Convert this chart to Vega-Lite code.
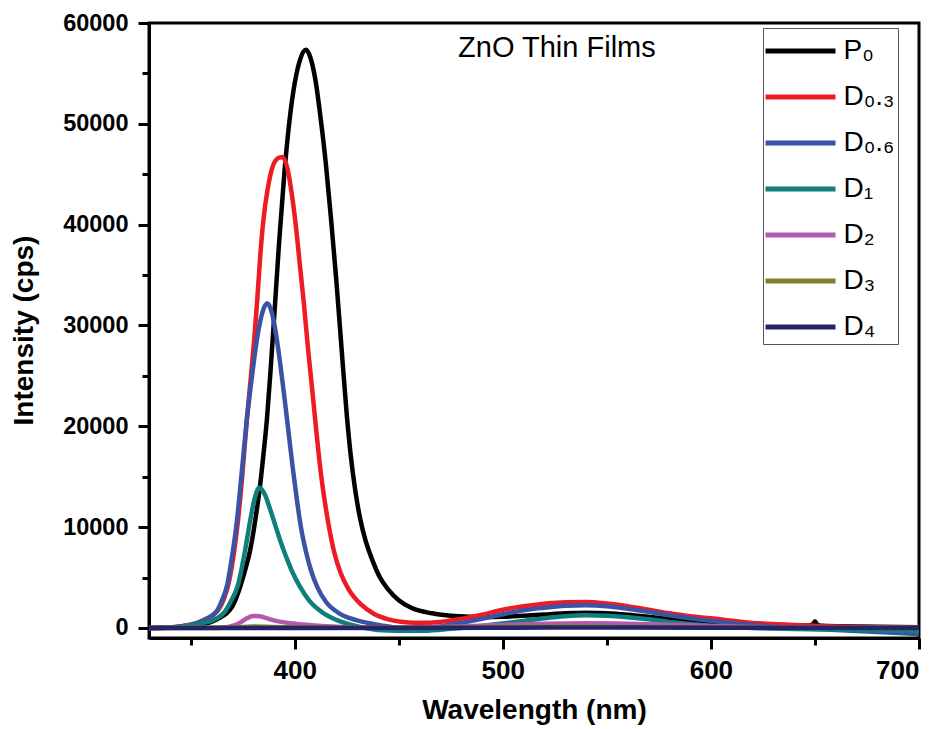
{
  "$schema": "https://vega.github.io/schema/vega-lite/v6.json",
  "width": 770,
  "height": 615,
  "autosize": {"type": "none"},
  "padding": {"left": 149, "top": 23, "right": 28, "bottom": 91},
  "background": "white",
  "config": {
    "view": {"stroke": "black", "strokeWidth": 3},
    "font": "Liberation Sans",
    "axis": {"grid": false, "domainColor": "black", "domainWidth": 3, "tickColor": "black", "tickWidth": 3, "labelColor": "black", "titleColor": "black", "labelFont": "Liberation Sans", "titleFont": "Liberation Sans", "labelFontWeight": "bold", "titleFontWeight": "bold"}
  },
  "layer": [
    {
      "data": {"values": [
        {"s":"P₀","x":330,"y":0},{"s":"P₀","x":340,"y":40},{"s":"P₀","x":346,"y":120},{"s":"P₀","x":350,"y":200},{"s":"P₀","x":355,"y":350},{"s":"P₀","x":360,"y":600},{"s":"P₀","x":364,"y":1000},{"s":"P₀","x":367,"y":1400},{"s":"P₀","x":370,"y":2100},{"s":"P₀","x":373.7,"y":4000},{"s":"P₀","x":376,"y":5600},{"s":"P₀","x":378.5,"y":7600},{"s":"P₀","x":381,"y":10600},{"s":"P₀","x":383.3,"y":14000},{"s":"P₀","x":385,"y":17200},{"s":"P₀","x":386.7,"y":20800},{"s":"P₀","x":388.5,"y":25800},{"s":"P₀","x":390.3,"y":31300},{"s":"P₀","x":392.5,"y":38200},{"s":"P₀","x":395,"y":45000},{"s":"P₀","x":397.5,"y":50300},{"s":"P₀","x":400,"y":54000},{"s":"P₀","x":402.5,"y":56300},{"s":"P₀","x":405.4,"y":57340},{"s":"P₀","x":407.5,"y":56600},{"s":"P₀","x":410,"y":54300},{"s":"P₀","x":412.5,"y":50500},{"s":"P₀","x":415,"y":46000},{"s":"P₀","x":417.5,"y":40500},{"s":"P₀","x":420,"y":34500},{"s":"P₀","x":422.5,"y":27800},{"s":"P₀","x":425,"y":21200},{"s":"P₀","x":427,"y":17000},{"s":"P₀","x":429,"y":13800},{"s":"P₀","x":431.5,"y":10800},{"s":"P₀","x":434,"y":8700},{"s":"P₀","x":437,"y":6900},{"s":"P₀","x":441,"y":5000},{"s":"P₀","x":445,"y":3800},{"s":"P₀","x":450,"y":2750},{"s":"P₀","x":456,"y":2000},{"s":"P₀","x":466,"y":1450},{"s":"P₀","x":479,"y":1150},{"s":"P₀","x":490,"y":1080},{"s":"P₀","x":500,"y":1100},{"s":"P₀","x":510,"y":1200},{"s":"P₀","x":520,"y":1330},{"s":"P₀","x":530,"y":1450},{"s":"P₀","x":540,"y":1500},{"s":"P₀","x":550,"y":1450},{"s":"P₀","x":560,"y":1300},{"s":"P₀","x":570,"y":1100},{"s":"P₀","x":580,"y":880},{"s":"P₀","x":590,"y":700},{"s":"P₀","x":600,"y":550},{"s":"P₀","x":620,"y":380},{"s":"P₀","x":640,"y":260},{"s":"P₀","x":647,"y":250},{"s":"P₀","x":649,"y":350},{"s":"P₀","x":650,"y":650},{"s":"P₀","x":651,"y":350},{"s":"P₀","x":653,"y":220},{"s":"P₀","x":670,"y":150},{"s":"P₀","x":700,"y":60},
        {"s":"D₀.₃","x":330,"y":0},{"s":"D₀.₃","x":340,"y":50},{"s":"D₀.₃","x":346,"y":180},{"s":"D₀.₃","x":350,"y":320},{"s":"D₀.₃","x":354.5,"y":600},{"s":"D₀.₃","x":358,"y":950},{"s":"D₀.₃","x":361,"y":1300},{"s":"D₀.₃","x":364,"y":2000},{"s":"D₀.₃","x":366,"y":2900},{"s":"D₀.₃","x":368,"y":4200},{"s":"D₀.₃","x":370.5,"y":7000},{"s":"D₀.₃","x":372.8,"y":10710},{"s":"D₀.₃","x":375,"y":15500},{"s":"D₀.₃","x":377,"y":20630},{"s":"D₀.₃","x":379,"y":25000},{"s":"D₀.₃","x":380.5,"y":28500},{"s":"D₀.₃","x":382,"y":32500},{"s":"D₀.₃","x":383.5,"y":37000},{"s":"D₀.₃","x":385,"y":40500},{"s":"D₀.₃","x":387,"y":43500},{"s":"D₀.₃","x":389.5,"y":45800},{"s":"D₀.₃","x":392,"y":46600},{"s":"D₀.₃","x":394,"y":46720},{"s":"D₀.₃","x":396.5,"y":45600},{"s":"D₀.₃","x":398.5,"y":43200},{"s":"D₀.₃","x":400.5,"y":40000},{"s":"D₀.₃","x":402.5,"y":36000},{"s":"D₀.₃","x":404.5,"y":32000},{"s":"D₀.₃","x":406.5,"y":27500},{"s":"D₀.₃","x":408.5,"y":23500},{"s":"D₀.₃","x":410.5,"y":19300},{"s":"D₀.₃","x":412.5,"y":15500},{"s":"D₀.₃","x":414.5,"y":12500},{"s":"D₀.₃","x":416.5,"y":10000},{"s":"D₀.₃","x":419,"y":7500},{"s":"D₀.₃","x":422,"y":5500},{"s":"D₀.₃","x":426,"y":3800},{"s":"D₀.₃","x":432,"y":2300},{"s":"D₀.₃","x":438,"y":1400},{"s":"D₀.₃","x":445,"y":850},{"s":"D₀.₃","x":451,"y":620},{"s":"D₀.₃","x":458,"y":520},{"s":"D₀.₃","x":464,"y":520},{"s":"D₀.₃","x":470,"y":600},{"s":"D₀.₃","x":480,"y":900},{"s":"D₀.₃","x":490,"y":1300},{"s":"D₀.₃","x":500,"y":1800},{"s":"D₀.₃","x":510,"y":2150},{"s":"D₀.₃","x":520,"y":2400},{"s":"D₀.₃","x":530,"y":2550},{"s":"D₀.₃","x":540,"y":2570},{"s":"D₀.₃","x":550,"y":2420},{"s":"D₀.₃","x":560,"y":2150},{"s":"D₀.₃","x":570,"y":1800},{"s":"D₀.₃","x":580,"y":1450},{"s":"D₀.₃","x":590,"y":1150},{"s":"D₀.₃","x":600,"y":950},{"s":"D₀.₃","x":610,"y":700},{"s":"D₀.₃","x":620,"y":500},{"s":"D₀.₃","x":640,"y":300},{"s":"D₀.₃","x":660,"y":150},{"s":"D₀.₃","x":680,"y":60},{"s":"D₀.₃","x":700,"y":0},
        {"s":"D₀.₆","x":330,"y":0},{"s":"D₀.₆","x":340,"y":50},{"s":"D₀.₆","x":346,"y":180},{"s":"D₀.₆","x":350,"y":320},{"s":"D₀.₆","x":354.5,"y":600},{"s":"D₀.₆","x":358,"y":950},{"s":"D₀.₆","x":361,"y":1350},{"s":"D₀.₆","x":363,"y":1800},{"s":"D₀.₆","x":365,"y":2700},{"s":"D₀.₆","x":367.5,"y":4200},{"s":"D₀.₆","x":370,"y":7200},{"s":"D₀.₆","x":372.3,"y":10710},{"s":"D₀.₆","x":374.5,"y":15300},{"s":"D₀.₆","x":377,"y":20630},{"s":"D₀.₆","x":379.5,"y":25000},{"s":"D₀.₆","x":382,"y":28800},{"s":"D₀.₆","x":384.5,"y":31300},{"s":"D₀.₆","x":386.8,"y":32200},{"s":"D₀.₆","x":389,"y":31300},{"s":"D₀.₆","x":391,"y":29200},{"s":"D₀.₆","x":393,"y":26300},{"s":"D₀.₆","x":395,"y":23000},{"s":"D₀.₆","x":397,"y":19500},{"s":"D₀.₆","x":399,"y":16000},{"s":"D₀.₆","x":401,"y":12800},{"s":"D₀.₆","x":403,"y":10000},{"s":"D₀.₆","x":405.5,"y":7500},{"s":"D₀.₆","x":408,"y":5600},{"s":"D₀.₆","x":411,"y":4000},{"s":"D₀.₆","x":415,"y":2600},{"s":"D₀.₆","x":421.8,"y":1400},{"s":"D₀.₆","x":430,"y":750},{"s":"D₀.₆","x":437.6,"y":400},{"s":"D₀.₆","x":445,"y":150},{"s":"D₀.₆","x":452,"y":-50},{"s":"D₀.₆","x":460,"y":-50},{"s":"D₀.₆","x":470,"y":150},{"s":"D₀.₆","x":480,"y":500},{"s":"D₀.₆","x":490,"y":900},{"s":"D₀.₆","x":500,"y":1350},{"s":"D₀.₆","x":510,"y":1750},{"s":"D₀.₆","x":520,"y":2000},{"s":"D₀.₆","x":530,"y":2200},{"s":"D₀.₆","x":540,"y":2250},{"s":"D₀.₆","x":550,"y":2150},{"s":"D₀.₆","x":560,"y":1900},{"s":"D₀.₆","x":570,"y":1600},{"s":"D₀.₆","x":580,"y":1250},{"s":"D₀.₆","x":590,"y":950},{"s":"D₀.₆","x":600,"y":700},{"s":"D₀.₆","x":620,"y":300},{"s":"D₀.₆","x":640,"y":0},{"s":"D₀.₆","x":660,"y":-200},{"s":"D₀.₆","x":680,"y":-400},{"s":"D₀.₆","x":700,"y":-600},
        {"s":"D₁","x":330,"y":0},{"s":"D₁","x":340,"y":40},{"s":"D₁","x":346,"y":150},{"s":"D₁","x":350,"y":260},{"s":"D₁","x":355,"y":450},{"s":"D₁","x":360,"y":700},{"s":"D₁","x":363,"y":1000},{"s":"D₁","x":366,"y":1500},{"s":"D₁","x":369,"y":2500},{"s":"D₁","x":372.8,"y":4300},{"s":"D₁","x":376,"y":7500},{"s":"D₁","x":378.5,"y":10500},{"s":"D₁","x":380.5,"y":12600},{"s":"D₁","x":383,"y":13900},{"s":"D₁","x":385.5,"y":13300},{"s":"D₁","x":388,"y":11900},{"s":"D₁","x":390.5,"y":10300},{"s":"D₁","x":393,"y":8700},{"s":"D₁","x":396,"y":7000},{"s":"D₁","x":399,"y":5500},{"s":"D₁","x":402.6,"y":4070},{"s":"D₁","x":407,"y":2700},{"s":"D₁","x":413.6,"y":1490},{"s":"D₁","x":420,"y":800},{"s":"D₁","x":431.4,"y":100},{"s":"D₁","x":440,"y":-200},{"s":"D₁","x":450,"y":-280},{"s":"D₁","x":460,"y":-280},{"s":"D₁","x":470,"y":-180},{"s":"D₁","x":480,"y":0},{"s":"D₁","x":490,"y":200},{"s":"D₁","x":500,"y":450},{"s":"D₁","x":510,"y":700},{"s":"D₁","x":520,"y":950},{"s":"D₁","x":530,"y":1150},{"s":"D₁","x":540,"y":1250},{"s":"D₁","x":550,"y":1200},{"s":"D₁","x":560,"y":1050},{"s":"D₁","x":570,"y":850},{"s":"D₁","x":580,"y":600},{"s":"D₁","x":590,"y":400},{"s":"D₁","x":600,"y":200},{"s":"D₁","x":620,"y":0},{"s":"D₁","x":640,"y":-100},{"s":"D₁","x":660,"y":-150},{"s":"D₁","x":680,"y":-250},{"s":"D₁","x":700,"y":-300},
        {"s":"D₂","x":330,"y":0},{"s":"D₂","x":360,"y":0},{"s":"D₂","x":366,"y":50},{"s":"D₂","x":370,"y":200},{"s":"D₂","x":374,"y":550},{"s":"D₂","x":377,"y":950},{"s":"D₂","x":380,"y":1180},{"s":"D₂","x":383,"y":1150},{"s":"D₂","x":386,"y":1000},{"s":"D₂","x":390,"y":750},{"s":"D₂","x":395,"y":550},{"s":"D₂","x":400,"y":420},{"s":"D₂","x":410,"y":250},{"s":"D₂","x":420,"y":120},{"s":"D₂","x":430,"y":50},{"s":"D₂","x":445,"y":30},{"s":"D₂","x":460,"y":60},{"s":"D₂","x":480,"y":150},{"s":"D₂","x":500,"y":300},{"s":"D₂","x":520,"y":420},{"s":"D₂","x":540,"y":460},{"s":"D₂","x":560,"y":420},{"s":"D₂","x":580,"y":320},{"s":"D₂","x":600,"y":200},{"s":"D₂","x":620,"y":100},{"s":"D₂","x":650,"y":40},{"s":"D₂","x":700,"y":0},
        {"s":"D₃","x":330,"y":0},{"s":"D₃","x":370,"y":30},{"s":"D₃","x":380,"y":150},{"s":"D₃","x":390,"y":100},{"s":"D₃","x":410,"y":40},{"s":"D₃","x":450,"y":20},{"s":"D₃","x":500,"y":80},{"s":"D₃","x":540,"y":120},{"s":"D₃","x":600,"y":60},{"s":"D₃","x":650,"y":20},{"s":"D₃","x":700,"y":0},
        {"s":"D₄","x":330,"y":0},{"s":"D₄","x":400,"y":0},{"s":"D₄","x":500,"y":20},{"s":"D₄","x":540,"y":40},{"s":"D₄","x":600,"y":20},{"s":"D₄","x":700,"y":0}
      ]},
      "mark": {"type": "line", "strokeWidth": 4.5, "interpolate": "monotone", "clip": true},
      "encoding": {
        "x": {"field": "x", "type": "quantitative",
          "scale": {"domain": [330, 700], "nice": false, "zero": false},
          "axis": {"values": [400, 500, 600, 700], "tickSize": 11, "labelFontSize": 26, "labelPadding": 8, "title": "Wavelength (nm)", "titleFontSize": 28, "titleY": 80, "titleBaseline": "alphabetic", "orient": "bottom"}},
        "y": {"field": "y", "type": "quantitative",
          "scale": {"domain": [-1000, 60000], "nice": false, "zero": false},
          "axis": {"values": [0, 10000, 20000, 30000, 40000, 50000, 60000], "format": "d", "tickSize": 11, "labelFontSize": 23.5, "labelPadding": 10, "title": "Intensity (cps)", "titleFontSize": 28, "titleX": -117, "titleY": 307, "titleAngle": -90, "titleAlign": "center", "titleBaseline": "alphabetic", "orient": "left"}},
        "color": {"field": "s", "type": "nominal",
          "scale": {"domain": ["P₀", "D₀.₃", "D₀.₆", "D₁", "D₂", "D₃", "D₄"], "range": ["#000000", "#ED1C24", "#3A53A4", "#0E7F7A", "#B459B0", "#7E7F2F", "#262468"]},
          "sort": ["P₀", "D₀.₃", "D₀.₆", "D₁", "D₂", "D₃", "D₄"],
          "legend": {"title": null, "orient": "none", "legendX": 614, "legendY": 5, "symbolType": "M-2,0H2", "symbolSize": 1225, "symbolStrokeWidth": 5, "symbolOffset": 14.5, "labelFontSize": 28, "labelFont": "Liberation Sans", "labelColor": "black", "labelOffset": 23, "fillColor": "white", "strokeColor": "#555555", "padding": 3, "rowPadding": 12}}
      }
    },
    {
      "data": {"values": [{}]},
      "mark": {"type": "text", "text": "ZnO Thin Films", "font": "Liberation Sans", "fontSize": 29, "align": "center", "baseline": "alphabetic", "color": "black"},
      "encoding": {
        "x": {"datum": 526, "type": "quantitative",
          "scale": {"domain": [330, 700], "nice": false, "zero": false},
          "axis": {"values": [350, 450, 550, 650], "labels": false, "domain": false, "tickSize": 7, "title": null, "orient": "bottom"}},
        "y": {"datum": 56640, "type": "quantitative",
          "scale": {"domain": [-1000, 60000], "nice": false, "zero": false},
          "axis": {"values": [5000, 15000, 25000, 35000, 45000, 55000], "labels": false, "domain": false, "tickSize": 7, "title": null, "orient": "left"}}
      }
    }
  ],
  "resolve": {"axis": {"x": "independent", "y": "independent"}}
}
